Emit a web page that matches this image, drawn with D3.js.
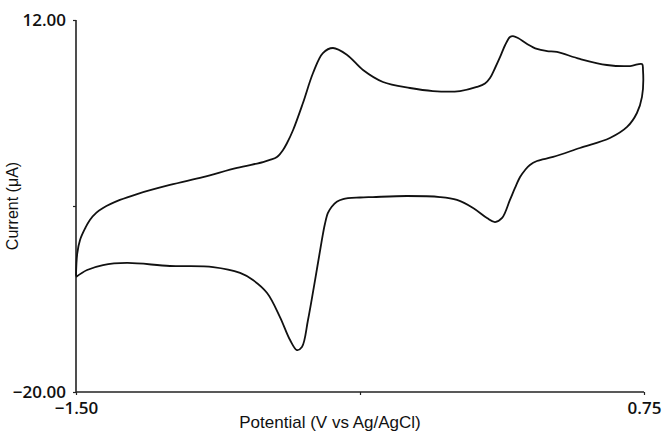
<!DOCTYPE html>
<html>
<head>
<meta charset="utf-8">
<script src="https://cdn.jsdelivr.net/npm/d3@7/dist/d3.min.js"></script>
<style>
  html, body { margin: 0; padding: 0; background: #fff; }
  svg { display: block; }
</style>
</head>
<body>
<svg id="chart" width="662" height="432"></svg>
<script>
// Cyclic voltammogram: forward (anodic) sweep from -1.50 V to 0.75 V,
// then the reverse (cathodic) sweep back to -1.50 V.
const forwardPotential = [-1.500, -1.495, -1.484, -1.463, -1.445, -1.419, -1.393, -1.326, -1.258, -1.128,
  -0.997, -0.862, -0.759, -0.732, -0.704, -0.680, -0.664, -0.640, -0.601, -0.561,
  -0.522, -0.482, -0.426, -0.363, -0.284, -0.177, -0.086, 0.021, 0.088, 0.120,
  0.140, 0.160, 0.180, 0.200, 0.219, 0.231, 0.251, 0.287, 0.326, 0.366,
  0.405, 0.496, 0.603, 0.695, 0.742];
const forwardCurrent = [-10.0, -8.07, -6.92, -5.89, -5.20, -4.57, -4.17, -3.48, -2.97, -2.19,
  -1.51, -0.73, -0.22, -0.04, 0.22, 0.82, 1.42, 2.54, 4.86, 7.44,
  9.16, 9.59, 8.99, 7.70, 6.67, 6.15, 5.89, 5.89, 6.24, 6.54,
  7.01, 7.87, 8.82, 9.85, 10.54, 10.62, 10.45, 9.94, 9.51, 9.33,
  9.25, 8.65, 8.13, 8.04, 8.21];

const reversePotential = [0.746, 0.742, 0.722, 0.683, 0.615, 0.496, 0.390, 0.326, 0.298, 0.279,
  0.259, 0.239, 0.219, 0.188, 0.160, 0.128, 0.073, 0.009, -0.058, -0.189,
  -0.324, -0.375, -0.442, -0.467, -0.487, -0.502, -0.514, -0.526, -0.553, -0.581,
  -0.605, -0.625, -0.652, -0.692, -0.743, -0.799, -0.850, -0.957, -1.128, -1.298,
  -1.393, -1.456, -1.500];
const reverseCurrent = [7.70, 5.38, 4.00, 2.80, 1.85, 0.99, 0.22, -0.13, -0.47, -0.90,
  -1.51, -2.45, -3.48, -5.03, -5.38, -5.03, -4.17, -3.48, -3.23, -3.14,
  -3.23, -3.27, -3.40, -3.63, -4.06, -4.60, -5.55, -6.92, -10.37, -13.81,
  -16.13, -16.39, -15.53, -13.55, -11.48, -10.37, -9.76, -9.25, -9.16, -8.90,
  -9.08, -9.51, -10.10];

const potentialDomain = [-1.50, 0.75];
const currentDomain = [-20.00, 12.00];
const potentialTicks = [-1.50, -0.375, 0.75];
const currentTicks = [12.00, -4.00, -20.00];
const potentialTickLabels = ["-1.50", "", "0.75"];
const currentTickLabels = ["12.00", "", "-20.00"];

const svg = d3.select("#chart");
const x = d3.scaleLinear().domain(potentialDomain).range([76, 644]);
const y = d3.scaleLinear().domain(currentDomain).range([392, 20]);

const minus = s => s.replace("-", "\u2212");

const yAxis = d3.axisLeft(y)
  .tickValues(currentTicks)
  .tickSize(3)
  .tickPadding(7)
  .tickFormat((d, i) => minus(currentTickLabels[i]));

const xAxis = d3.axisBottom(x)
  .tickValues(potentialTicks)
  .tickSize(3)
  .tickPadding(7)
  .tickFormat((d, i) => minus(potentialTickLabels[i]));

const axisStyle = g => {
  g.select(".domain").attr("stroke", "#222").attr("stroke-width", 1.6);
  g.selectAll(".tick line").attr("stroke", "#222").attr("stroke-width", 1.2);
  g.selectAll(".tick text")
    .attr("fill", "#111")
    .style("font-family", "'Open Sans', 'DejaVu Sans', sans-serif")
    .style("font-weight", "600")
    .style("font-size", "17px");
};

svg.append("g")
  .attr("transform", "translate(76,0)")
  .call(yAxis)
  .call(axisStyle)
  .call(g => g.select(".domain").attr("d", "M0,20V392"));

svg.append("g")
  .attr("transform", "translate(0,392)")
  .call(xAxis)
  .call(axisStyle)
  .call(g => g.select(".domain").attr("d", "M76,0H644"));

// Voltammogram trace
const points = forwardPotential.map((v, i) => [v, forwardCurrent[i]])
  .concat(reversePotential.map((v, i) => [v, reverseCurrent[i]]));

const line = d3.line()
  .x(d => x(d[0]))
  .y(d => y(d[1]))
  .curve(d3.curveCatmullRom.alpha(0.5));

svg.append("path")
  .datum(points)
  .attr("d", line)
  .attr("fill", "none")
  .attr("stroke", "#111")
  .attr("stroke-width", 1.8)
  .attr("stroke-linejoin", "round");

// Axis titles
svg.append("text")
  .attr("x", 330)
  .attr("y", 428)
  .attr("text-anchor", "middle")
  .style("font-family", "'Liberation Sans', Arial, sans-serif")
  .style("font-size", "17px")
  .attr("fill", "#111")
  .text("Potential (V vs Ag/AgCl)");

svg.append("text")
  .attr("transform", "translate(18,206) rotate(-90)")
  .attr("text-anchor", "middle")
  .style("font-family", "'Liberation Sans', Arial, sans-serif")
  .style("font-size", "16px")
  .attr("fill", "#111")
  .text("Current (\u03bcA)");
</script>
</body>
</html>
